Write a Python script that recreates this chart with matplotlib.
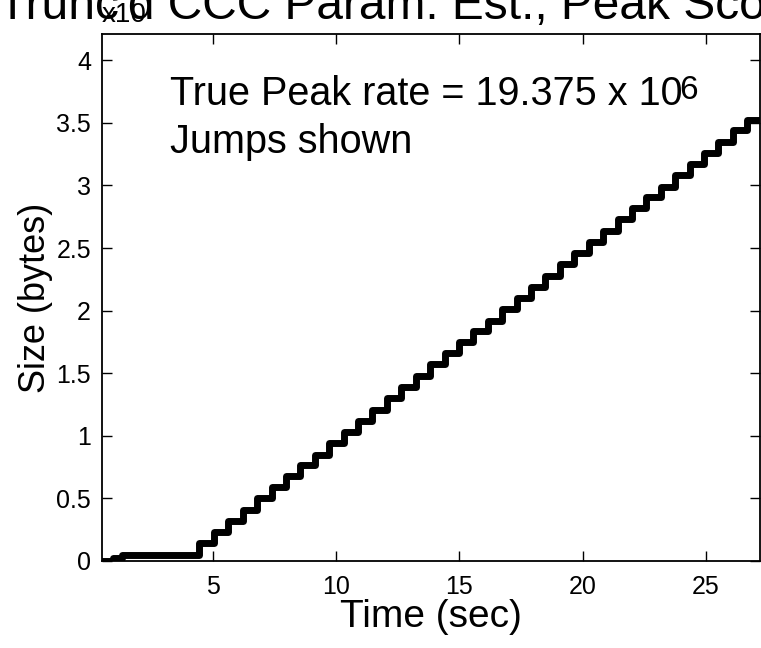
import numpy as np
import matplotlib
matplotlib.use('Agg')
import matplotlib.pyplot as plt
from matplotlib.ticker import FuncFormatter

plt.rcParams['font.family'] = ['Liberation Sans', 'DejaVu Sans']

# step times (sec) and cumulative size after each step (bytes)
step_time = [0.5, 0.95, 1.3, 4.45, 5.04, 5.62, 6.21, 6.79, 7.38, 7.96, 8.55, 9.13, 9.72,
             10.30, 10.89, 11.47, 12.06, 12.64, 13.23, 13.81, 14.40, 14.98, 15.57,
             16.15, 16.74, 17.32, 17.91, 18.49, 19.08, 19.66, 20.25, 20.83, 21.42,
             22.00, 22.59, 23.17, 23.76, 24.34, 24.93, 25.51, 26.10, 26.68, 27.3]
step_size_mb = [0.0, 0.25, 0.5, 1.4, 2.3, 3.2, 4.1, 5.0, 5.9, 6.8, 7.7, 8.5, 9.4,
                10.3, 11.2, 12.1, 13.0, 13.9, 14.8, 15.7, 16.6, 17.5, 18.4,
                19.2, 20.1, 21.0, 21.9, 22.8, 23.7, 24.6, 25.5, 26.4, 27.3,
                28.2, 29.1, 29.9, 30.8, 31.7, 32.6, 33.5, 34.4, 35.2, 35.2]
x_ticks = [5, 10, 15, 20, 25]
y_ticks = [0, 0.5, 1, 1.5, 2, 2.5, 3, 3.5, 4]

sizes = np.array(step_size_mb) * 1e6

fig = plt.figure(figsize=(7.61, 6.48), dpi=100)
ax = fig.add_axes([102/761, 87/648, 658/761, 527/648])

ax.step(step_time, sizes, where='post', color='black', lw=5,
        solid_joinstyle='round', solid_capstyle='round')

ax.set_xlim(0.5, 27.2)
ax.set_ylim(0, 4.21e7)
ax.set_xticks(x_ticks)
ax.set_yticks([v * 1e7 for v in y_ticks])
ax.yaxis.set_major_formatter(FuncFormatter(lambda v, p: '%g' % (v / 1e7)))
ax.tick_params(direction='in', length=7, width=1, top=True, right=True,
               labelsize=18, pad=8)
ax.tick_params(axis='x', pad=10)
for s in ax.spines.values():
    s.set_linewidth(1.3)

ax.set_xlabel('Time (sec)', fontsize=28, labelpad=0)
ax.set_ylabel('Size (bytes)', fontsize=26, labelpad=2)

ax.text((170-102)/658, 1 - (105-34)/527, 'True Peak rate = 19.375 x 10',
        transform=ax.transAxes, fontsize=28.5, va='baseline')
ax.text((679-102)/658, 1 - (99-34)/527, '6',
        transform=ax.transAxes, fontsize=24, va='baseline')
ax.text((170-102)/658, 1 - (153-34)/527, 'Jumps shown',
        transform=ax.transAxes, fontsize=28.5, va='baseline')

fig.text(102/761, 1 - 22/648, 'x10', fontsize=20, va='baseline')
fig.text(-2/761, 1 - 19/648, "Trunc'd CCC Param. Est., Peak Scores",
         fontsize=34.5, ha='left', va='baseline')

fig.savefig('out.png', dpi=100)
